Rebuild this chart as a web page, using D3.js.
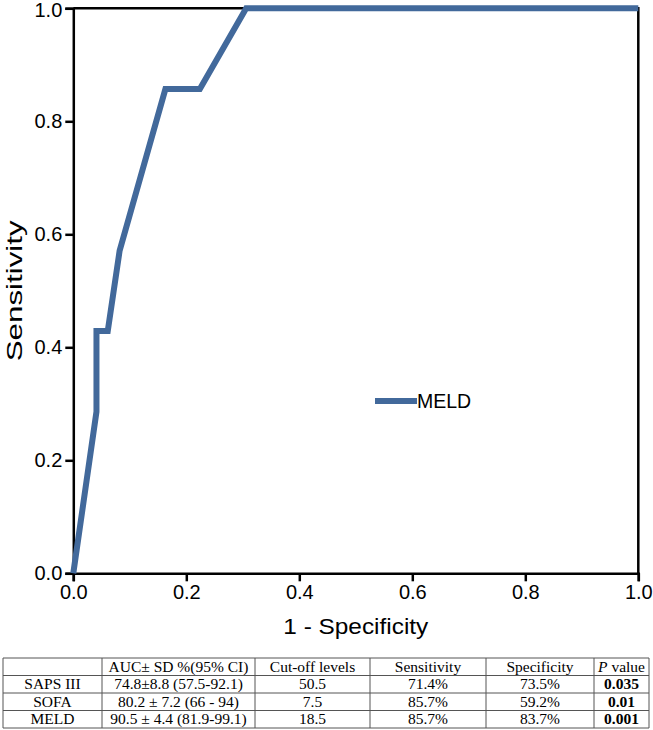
<!DOCTYPE html>
<html>
<head>
<meta charset="utf-8">
<script src="https://cdn.jsdelivr.net/npm/d3@7"></script>
<style>
  html, body { margin: 0; padding: 0; background: #fff; }
  svg { display: block; }
</style>
</head>
<body>
<script>
// ---- Data ----
const fpr = [0, 0.041, 0.041, 0.061, 0.082, 0.163, 0.224, 0.306, 1.0];
const tpr = [0, 0.286, 0.429, 0.429, 0.571, 0.857, 0.857, 1.0, 1.0];
const seriesName = "MELD";
const tickValues = [0, 0.2, 0.4, 0.6, 0.8, 1.0];
const xTitle = "1 - Specificity";
const yTitle = "Sensitivity";

const tableHeader = ["", "AUC\u00B1 SD %(95% CI)", "Cut-off levels", "Sensitivity", "Specificity", "P value"];
const tableModels = ["SAPS III", "SOFA", "MELD"];
const tableAUC = ["74.8\u00B18.8 (57.5-92.1)", "80.2 \u00B1 7.2 (66 - 94)", "90.5 \u00B1 4.4 (81.9-99.1)"];
const tableCutoff = ["50.5", "7.5", "18.5"];
const tableSens = ["71.4%", "85.7%", "85.7%"];
const tableSpec = ["73.5%", "59.2%", "83.7%"];
const tablePval = ["0.035", "0.01", "0.001"];

(function () {
// ---- Layout ----
const W = 653, H = 730;
const mLeft = 73.3, mRight = 638.3, mTop = 8.3, mBottom = 573.3;
const color = "#42699b";

const svg = d3.select("body").append("svg").attr("width", W).attr("height", H);

const x = d3.scaleLinear().domain([0, 1]).range([mLeft, mRight]);
const y = d3.scaleLinear().domain([0, 1]).range([mBottom, mTop]);

// Frame (top and right)
svg.append("path")
  .attr("d", `M${x(0)},${y(1)}H${x(1)}V${y(0)}`)
  .attr("fill", "none").attr("stroke", "#000").attr("stroke-width", 2.5);

// Axes
const fmt = d3.format(".1f");
const xAxis = svg.append("g").attr("transform", `translate(0,${mBottom})`)
  .call(d3.axisBottom(x).tickValues(tickValues).tickFormat(fmt).tickSize(8).tickPadding(4));
const yAxis = svg.append("g").attr("transform", `translate(${mLeft},0)`)
  .call(d3.axisLeft(y).tickValues(tickValues).tickFormat(fmt).tickSize(8).tickPadding(3));
[xAxis, yAxis].forEach(g => {
  g.select(".domain").attr("stroke", "#000").attr("stroke-width", 2.5);
  g.selectAll(".tick line").attr("stroke", "#000").attr("stroke-width", 2.5);
  g.selectAll(".tick text").attr("fill", "#000")
    .style("font-family", "'Liberation Sans', Arial, sans-serif").style("font-size", "20px");
});
// keep the top y label fully inside the picture
yAxis.selectAll(".tick text").filter(d => d === 1).attr("dy", "0.42em");

// ROC curve
const pts = fpr.map((v, i) => [v, tpr[i]]);
const line = d3.line().x(d => x(d[0])).y(d => y(d[1]));
svg.append("path").datum(pts)
  .attr("d", line)
  .attr("fill", "none").attr("stroke", color).attr("stroke-width", 6)
  .attr("stroke-linejoin", "miter");

// Axis titles
svg.append("text")
  .attr("x", (mLeft + mRight) / 2).attr("y", 634)
  .attr("text-anchor", "middle")
  .style("font-family", "'Liberation Sans', Arial, sans-serif").style("font-size", "22px")
  .attr("textLength", 145).attr("lengthAdjust", "spacingAndGlyphs")
  .text(xTitle);
svg.append("text")
  .attr("transform", `translate(22,${(mTop + mBottom) / 2}) rotate(-90)`)
  .attr("text-anchor", "middle")
  .style("font-family", "'Liberation Sans', Arial, sans-serif").style("font-size", "22px")
  .attr("textLength", 141).attr("lengthAdjust", "spacingAndGlyphs")
  .text(yTitle);

// Legend
svg.append("line")
  .attr("x1", 375).attr("x2", 417).attr("y1", 401).attr("y2", 401)
  .attr("stroke", color).attr("stroke-width", 6);
svg.append("text")
  .attr("x", 417).attr("y", 408)
  .style("font-family", "'Liberation Sans', Arial, sans-serif").style("font-size", "19.5px")
  .text(seriesName);

// ---- Table ----
const colEdges = [3, 102, 255, 370, 486, 594, 649];
const rowEdges = [658, 675.5, 693, 710.5, 728];
const rows = [tableHeader].concat(tableModels.map((m, i) =>
  [m, tableAUC[i], tableCutoff[i], tableSens[i], tableSpec[i], tablePval[i]]));

const tg = svg.append("g");
rowEdges.forEach(ry => tg.append("line")
  .attr("x1", colEdges[0]).attr("x2", colEdges[colEdges.length - 1])
  .attr("y1", ry).attr("y2", ry).attr("stroke", "#555").attr("stroke-width", 1));
colEdges.forEach(cx => tg.append("line")
  .attr("x1", cx).attr("x2", cx)
  .attr("y1", rowEdges[0]).attr("y2", rowEdges[rowEdges.length - 1])
  .attr("stroke", "#555").attr("stroke-width", 1));

rows.forEach((r, ri) => {
  r.forEach((cell, ci) => {
    if (!cell) return;
    const cx = (colEdges[ci] + colEdges[ci + 1]) / 2;
    const cy = (rowEdges[ri] + rowEdges[ri + 1]) / 2 + 5;
    const t = tg.append("text")
      .attr("x", cx).attr("y", cy)
      .attr("text-anchor", "middle")
      .style("font-family", "'Liberation Serif', 'Times New Roman', serif")
      .style("font-size", "15.5px").attr("fill", "#000");
    if (ri === 0 && ci === 5) {
      t.append("tspan").style("font-style", "italic").text("P");
      t.append("tspan").text(" value");
    } else {
      t.text(cell);
      if (ci === 5 && ri > 0) t.style("font-weight", "bold");
    }
  });
});
})();
</script>
</body>
</html>
